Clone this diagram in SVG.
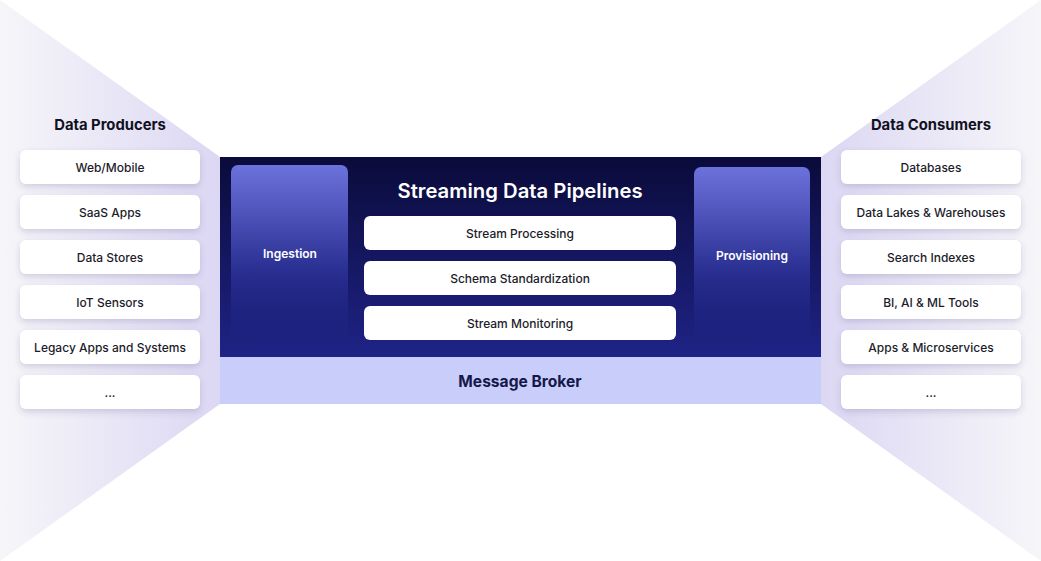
<svg xmlns="http://www.w3.org/2000/svg" width="1041" height="561" viewBox="0 0 1041 561">
<defs>
<linearGradient id="fanL" x1="0" y1="0" x2="1" y2="0">
<stop offset="0" stop-color="#f6f6f9"/>
<stop offset="1" stop-color="#dcd7f3"/>
</linearGradient>
<linearGradient id="fanR" x1="1" y1="0" x2="0" y2="0">
<stop offset="0" stop-color="#f6f6f9"/>
<stop offset="1" stop-color="#dcd7f3"/>
</linearGradient>
<linearGradient id="core" x1="0" y1="0" x2="0" y2="1">
<stop offset="0" stop-color="#0a0b3a"/>
<stop offset="1" stop-color="#1f2386"/>
</linearGradient>
<linearGradient id="col" x1="0" y1="0" x2="0" y2="1">
<stop offset="0" stop-color="#6c72db"/>
<stop offset="0.6" stop-color="#2a2f92"/>
<stop offset="1" stop-color="#1f2386" stop-opacity="0.2"/>
</linearGradient>
<filter id="sh" x="-20%" y="-30%" width="140%" height="180%">
<feDropShadow dx="0" dy="3" stdDeviation="3" flood-color="#4a4a7a" flood-opacity="0.2"/>
</filter>
<style>
.card{fill:#ffffff;filter:url(#sh)}
.inner{fill:#ffffff}
.lbl{font-family:Inter,"Liberation Sans",sans-serif;font-size:12px;font-weight:500;fill:#1c1c2b;text-anchor:middle}
.ttl{font-family:Inter,"Liberation Sans",sans-serif;font-size:14.8px;font-weight:700;fill:#111122;text-anchor:middle}
.wt{font-family:Inter,"Liberation Sans",sans-serif;font-weight:600;fill:#ffffff;text-anchor:middle}
</style>
</defs>
<rect width="1041" height="561" fill="#ffffff"/>
<g id="fans">
<polygon points="0,0 220,157 220,404 0,561" fill="url(#fanL)"/>
<polygon points="1041,0 821,157 821,404 1041,561" fill="url(#fanR)"/>
</g>
<g id="producers">
<text class="ttl" x="110" y="130">Data Producers</text>
<g id="p1"><rect class="card" x="20" y="150" width="180" height="34" rx="6"/><text class="lbl" x="110" y="172">Web/Mobile</text></g>
<g id="p2"><rect class="card" x="20" y="195" width="180" height="34" rx="6"/><text class="lbl" x="110" y="217">SaaS Apps</text></g>
<g id="p3"><rect class="card" x="20" y="240" width="180" height="34" rx="6"/><text class="lbl" x="110" y="262">Data Stores</text></g>
<g id="p4"><rect class="card" x="20" y="285" width="180" height="34" rx="6"/><text class="lbl" x="110" y="307">IoT Sensors</text></g>
<g id="p5"><rect class="card" x="20" y="330" width="180" height="34" rx="6"/><text class="lbl" x="110" y="352">Legacy Apps and Systems</text></g>
<g id="p6"><rect class="card" x="20" y="375" width="180" height="34" rx="6"/><text class="lbl" x="110" y="397">...</text></g>
</g>
<g id="consumers">
<text class="ttl" x="931" y="130">Data Consumers</text>
<g id="c1"><rect class="card" x="841" y="150" width="180" height="34" rx="6"/><text class="lbl" x="931" y="172">Databases</text></g>
<g id="c2"><rect class="card" x="841" y="195" width="180" height="34" rx="6"/><text class="lbl" x="931" y="217">Data Lakes &amp; Warehouses</text></g>
<g id="c3"><rect class="card" x="841" y="240" width="180" height="34" rx="6"/><text class="lbl" x="931" y="262">Search Indexes</text></g>
<g id="c4"><rect class="card" x="841" y="285" width="180" height="34" rx="6"/><text class="lbl" x="931" y="307">BI, AI &amp; ML Tools</text></g>
<g id="c5"><rect class="card" x="841" y="330" width="180" height="34" rx="6"/><text class="lbl" x="931" y="352">Apps &amp; Microservices</text></g>
<g id="c6"><rect class="card" x="841" y="375" width="180" height="34" rx="6"/><text class="lbl" x="931" y="397">...</text></g>
</g>
<g id="pipeline">
<rect x="220" y="157" width="601" height="200" fill="url(#core)"/>
<g id="broker">
<rect x="220" y="357" width="601" height="47" fill="#c9cdf9"/>
<text x="520" y="386.5" font-family="Inter,'Liberation Sans',sans-serif" font-size="15.6" font-weight="700" fill="#15184a" text-anchor="middle">Message Broker</text>
</g>
<g id="ingestion">
<rect x="231" y="165" width="117" height="175" rx="7" fill="url(#col)"/>
<text class="wt" x="290" y="257.5" font-size="12">Ingestion</text>
</g>
<g id="provisioning">
<rect x="694" y="167" width="116" height="173" rx="7" fill="url(#col)"/>
<text class="wt" x="752" y="259.5" font-size="12">Provisioning</text>
</g>
<text class="wt" x="520" y="197.5" font-size="20.3">Streaming Data Pipelines</text>
<g id="s1"><rect class="inner" x="364" y="216" width="312" height="34" rx="6"/><text class="lbl" x="520" y="238">Stream Processing</text></g>
<g id="s2"><rect class="inner" x="364" y="261" width="312" height="34" rx="6"/><text class="lbl" x="520" y="283">Schema Standardization</text></g>
<g id="s3"><rect class="inner" x="364" y="306" width="312" height="34" rx="6"/><text class="lbl" x="520" y="328">Stream Monitoring</text></g>
</g>
<g id="connectors"></g>
</svg>
